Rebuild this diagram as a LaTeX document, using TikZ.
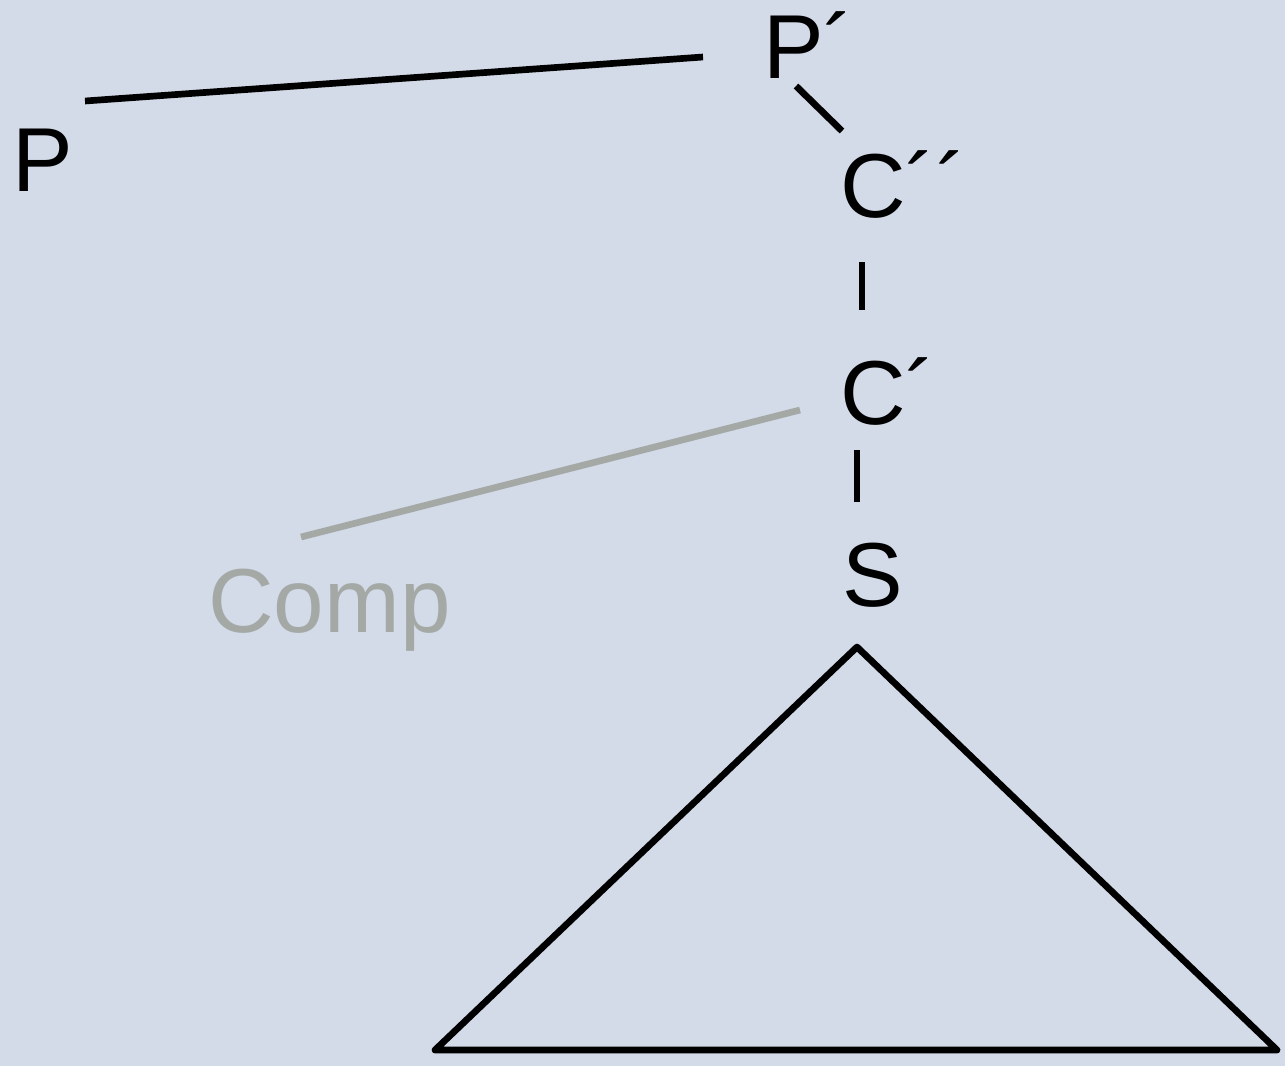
\documentclass[tikz,border=0pt]{standalone}
\usepackage{fontspec}
\setmainfont{Liberation Sans}
\definecolor{bg}{HTML}{D3DAE8}
\definecolor{greyc}{HTML}{A5A9A6}
\begin{document}
\begin{tikzpicture}[x=0.02cm,y=-0.02cm,
  lab/.style={inner sep=0pt,anchor=base west,font=\fontsize{51.7}{62}\selectfont},
  edge/.style={line width=3.8pt,black},
  greyedge/.style={line width=3.8pt,greyc}]
\fill[bg] (0,0) rectangle (1285,1066);
\useasboundingbox (0,0) rectangle (1285,1066);
\node[lab] (P) at (12,191) {P};
\node[lab] (Pp) at (763,78) {P´};
\node[lab] (Cpp) at (840,217) {C´´};
\node[lab] (Cp) at (840,424) {C´};
\node[lab] (S) at (842,606) {S};
\node[lab,text=greyc] (Comp) at (208,632) {Comp};
\coordinate (a1) at (85,101);
\coordinate (a2) at (703,57);
\coordinate (b1) at (796,86);
\coordinate (b2) at (842,131);
\coordinate (c1) at (862,262);
\coordinate (c2) at (862,310);
\coordinate (d1) at (857,450);
\coordinate (d2) at (857,502);
\coordinate (g1) at (301,537);
\coordinate (g2) at (800,410);
\coordinate (t1) at (857,647);
\coordinate (t2) at (1277,1050);
\coordinate (t3) at (435,1050);
\draw[edge] (a1) -- (a2);
\draw[edge] (b1) -- (b2);
\draw[edge] (c1) -- (c2);
\draw[edge] (d1) -- (d2);
\draw[greyedge] (g1) -- (g2);
\draw[edge,line join=round] (t1) -- (t2) -- (t3) -- cycle;
\end{tikzpicture}
\end{document}
